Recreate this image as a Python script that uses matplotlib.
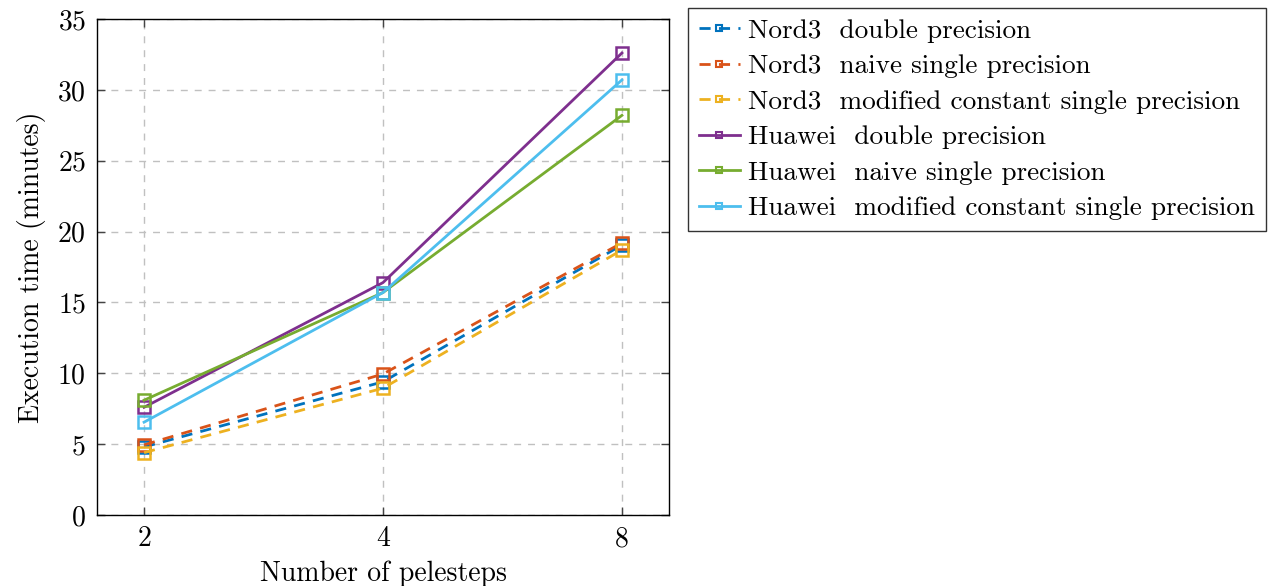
import matplotlib
matplotlib.use("Agg")
import matplotlib.pyplot as plt
from matplotlib.ticker import FixedLocator, NullLocator, FixedFormatter

plt.rcParams["font.family"] = "serif"
plt.rcParams["font.serif"] = ["cmr10", "DejaVu Serif"]
plt.rcParams["mathtext.fontset"] = "cm"
plt.rcParams["axes.formatter.use_mathtext"] = True

pelesteps = [2, 4, 8]
tick_labels = ["2", "4", "8"]

nord3_double = [4.8, 9.4, 19.05]
nord3_naive = [4.95, 9.95, 19.2]
nord3_modified = [4.4, 8.95, 18.7]
huawei_double = [7.6, 16.4, 32.6]
huawei_naive = [8.1, 15.7, 28.2]
huawei_modified = [6.55, 15.7, 30.7]

series = [
    ("Nord3  double precision", nord3_double, "#0072BD", "--"),
    ("Nord3  naive single precision", nord3_naive, "#D95319", "--"),
    ("Nord3  modified constant single precision", nord3_modified, "#EDB120", "--"),
    ("Huawei  double precision", huawei_double, "#7E2F8E", "-"),
    ("Huawei  naive single precision", huawei_naive, "#77AC30", "-"),
    ("Huawei  modified constant single precision", huawei_modified, "#4DBEEE", "-"),
]

fs = 20
leg_fs = 19.6

fig = plt.figure(figsize=(12.76, 5.86), dpi=100)
ax = fig.add_axes([97 / 1276, 71 / 586, 572 / 1276, 496 / 586])

for label, values, color, ls in series:
    ax.plot(pelesteps, values, linestyle=ls, color=color, linewidth=2.0,
            marker="s", markersize=8, markerfacecolor="none",
            markeredgewidth=1.8, markeredgecolor=color, label=label,
            dashes=(4, 3) if ls == "--" else (None, None))

ax.set_xscale("log", base=2)
ax.set_xlim(2 / 2 ** 0.197, 8 * 2 ** 0.197)
ax.set_ylim(0, 35)
ax.xaxis.set_major_locator(FixedLocator(pelesteps))
ax.xaxis.set_major_formatter(FixedFormatter(tick_labels))
ax.xaxis.set_minor_locator(NullLocator())
ax.set_yticks(range(0, 36, 5))

ax.grid(True, linestyle=(0, (5, 5)), color="#c0c0c0", linewidth=1.0)
ax.set_axisbelow(True)
ax.tick_params(direction="in", length=6, width=1, top=True, right=True,
               labelsize=fs, pad=8, color="#444444")
for s in ax.spines.values():
    s.set_linewidth(1.0)

ax.set_xlabel("Number of pelesteps", fontsize=fs, labelpad=6)
ax.set_ylabel("Execution time (minutes)", fontsize=fs, labelpad=8)

leg = fig.legend(loc="upper left", bbox_to_anchor=(688 / 1276, 1 - 8 / 586),
                 fontsize=leg_fs, frameon=True, fancybox=False, framealpha=1,
                 edgecolor="#333333", handlelength=1.5, handletextpad=0.3,
                 labelspacing=0.42, borderpad=0.4, borderaxespad=0)
leg.get_frame().set_linewidth(1.0)
for h in leg.legend_handles:
    h.set_markersize(5)
    h.set_markeredgewidth(1.5)

fig.savefig("out.png", dpi=100)
